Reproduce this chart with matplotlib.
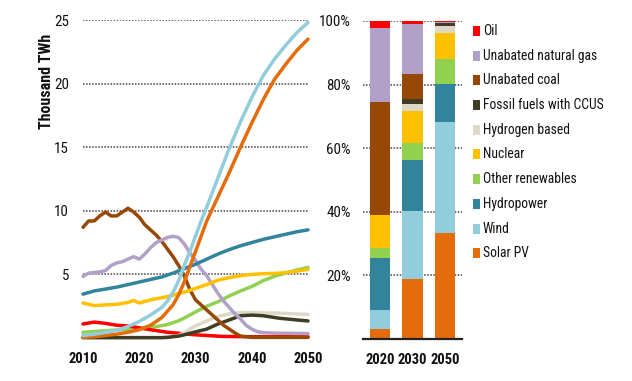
import matplotlib
matplotlib.use("Agg")
import matplotlib.pyplot as plt
from matplotlib import font_manager as fm
from matplotlib.patches import Rectangle
import numpy as np

# ---------------- data ----------------
oil_years = [2010, 2012, 2014, 2016, 2018, 2020, 2022, 2025, 2030, 2035, 2040, 2050]
oil_vals = [1.1, 1.25, 1.15, 1.0, 0.95, 0.8, 0.65, 0.45, 0.25, 0.12, 0.1, 0.1]

gas_years = [2010, 2011, 2012, 2013, 2014, 2015, 2016, 2017, 2018, 2019, 2020, 2021, 2022, 2023, 2024,
             2025, 2026, 2027, 2028, 2029, 2030, 2031, 2032, 2033, 2034, 2035, 2036, 2037, 2038, 2039,
             2040, 2041, 2042, 2044, 2050]
gas_vals = [4.85, 5.1, 5.15, 5.2, 5.3, 5.7, 5.9, 6.0, 6.2, 6.4, 6.2, 6.6, 7.1, 7.5, 7.7,
            7.9, 8.0, 7.9, 7.4, 6.7, 6.1, 5.4, 4.9, 4.2, 3.5, 2.9, 2.4, 1.9, 1.5, 1.0,
            0.7, 0.5, 0.42, 0.38, 0.35]

coal_years = [2010, 2011, 2012, 2013, 2014, 2015, 2016, 2017, 2018, 2019, 2020, 2021, 2022, 2023, 2024,
              2025, 2026, 2027, 2028, 2029, 2030, 2031, 2032, 2033, 2034, 2035, 2036, 2037, 2038,
              2040, 2050]
coal_vals = [8.7, 9.2, 9.2, 9.6, 9.9, 9.6, 9.6, 9.9, 10.2, 9.9, 9.5, 8.9, 8.5, 8.1, 7.6,
             7.0, 6.4, 5.7, 4.9, 3.8, 3.0, 2.6, 2.2, 1.8, 1.4, 1.0, 0.7, 0.4, 0.15,
             0.05, 0.05]

ccus_years = [2010, 2024, 2025, 2026, 2027, 2028, 2029, 2030, 2032, 2034, 2036, 2038, 2040, 2042, 2045, 2048, 2050]
ccus_vals = [0.03, 0.03, 0.05, 0.1, 0.15, 0.25, 0.37, 0.48, 0.7, 1.1, 1.42, 1.75, 1.8, 1.75, 1.55, 1.42, 1.34]

h2_years = [2010, 2024, 2025, 2026, 2027, 2028, 2029, 2030, 2032, 2034, 2036, 2038, 2040, 2045, 2050]
h2_vals = [0.02, 0.02, 0.05, 0.1, 0.2, 0.4, 0.7, 0.95, 1.35, 1.7, 1.9, 2.0, 2.0, 1.95, 1.85]

nuc_years = [2010, 2012, 2014, 2016, 2018, 2019, 2020, 2022, 2025, 2028, 2030, 2032, 2034, 2036, 2038,
             2040, 2042, 2045, 2048, 2050]
nuc_vals = [2.75, 2.55, 2.6, 2.65, 2.8, 2.95, 2.75, 3.0, 3.25, 3.6, 3.9, 4.2, 4.55, 4.75, 4.9,
            5.0, 5.05, 5.1, 5.25, 5.4]

oth_years = [2010, 2015, 2020, 2023, 2025, 2027, 2029, 2030, 2032, 2034, 2036, 2038, 2040, 2042, 2044,
             2046, 2048, 2050]
oth_vals = [0.45, 0.6, 0.75, 0.9, 1.05, 1.35, 1.8, 2.05, 2.5, 2.85, 3.3, 3.7, 4.05, 4.5, 4.85,
            5.1, 5.35, 5.55]

hyd_years = [2010, 2012, 2014, 2016, 2018, 2020, 2022, 2024, 2026, 2028, 2030, 2032, 2034, 2036, 2038,
             2040, 2042, 2044, 2046, 2048, 2050]
hyd_vals = [3.45, 3.7, 3.85, 4.0, 4.2, 4.4, 4.6, 4.8, 5.1, 5.45, 5.8, 6.2, 6.6, 6.95, 7.25,
            7.5, 7.75, 7.95, 8.15, 8.35, 8.5]

wind_years = [2010, 2012, 2014, 2016, 2018, 2020, 2022, 2024, 2025, 2026, 2027, 2028, 2029, 2030, 2031,
              2032, 2034, 2036, 2038, 2040, 2042, 2044, 2046, 2048, 2050]
wind_vals = [0.2, 0.3, 0.45, 0.6, 0.9, 1.3, 1.8, 2.4, 2.9, 3.6, 4.5, 5.7, 6.8, 8.0, 9.2,
             10.3, 12.6, 14.9, 17.0, 18.9, 20.6, 21.9, 23.0, 24.0, 24.8]

sol_years = [2010, 2012, 2014, 2016, 2018, 2020, 2022, 2024, 2025, 2026, 2027, 2028, 2029, 2030, 2031,
             2032, 2034, 2036, 2038, 2040, 2042, 2044, 2046, 2048, 2050]
sol_vals = [0.05, 0.1, 0.2, 0.3, 0.45, 0.65, 1.0, 1.6, 2.1, 2.6, 3.4, 4.4, 5.6, 6.8, 8.0,
            9.2, 11.1, 13.0, 15.0, 16.9, 18.7, 20.3, 21.5, 22.6, 23.5]

# stacked shares (%) for 2020, 2030, 2050
bar_years = ["2020", "2030", "2050"]
share_solar = [3.0, 18.8, 33.3]
share_wind = [6.0, 21.6, 34.9]
share_hydro = [16.6, 15.8, 12.0]
share_other = [3.1, 5.4, 8.0]
share_nuclear = [10.3, 10.1, 7.9]
share_h2 = [0.0, 2.1, 2.2]
share_ccus = [0.0, 1.6, 1.1]
share_coal = [35.6, 7.8, 0.0]
share_gas = [23.3, 15.8, 0.4]
share_oil = [2.1, 1.0, 0.2]

legend_labels = ["Oil", "Unabated natural gas", "Unabated coal", "Fossil fuels with CCUS",
                 "Hydrogen based", "Nuclear", "Other renewables", "Hydropower", "Wind", "Solar PV"]

C_OIL = "#FF0000"
C_GAS = "#B1A0C7"
C_COAL = "#974706"
C_CCUS = "#403D25"
C_H2 = "#DDD9C4"
C_NUC = "#FFC000"
C_OTH = "#92D050"
C_HYD = "#31849B"
C_WIND = "#92CDDC"
C_SOL = "#E46C0A"

# ---------------- fonts ----------------
def pick(names):
    for n in names:
        try:
            fm.findfont(fm.FontProperties(family=n), fallback_to_default=False)
            return n
        except Exception:
            pass
    return "DejaVu Sans"

FONT = pick(["Liberation Sans Narrow", "Roboto Condensed", "Liberation Sans"])
narrow = FONT != "Liberation Sans"
plt.rcParams["font.family"] = [FONT, "DejaVu Sans"]

W, H = 632, 381
fig = plt.figure(figsize=(W / 100, H / 100), dpi=100)

def axrect(x0, x1, ytop, ybot):
    return [x0 / W, (H - ybot) / H, (x1 - x0) / W, (ybot - ytop) / H]

tick_fs = 10.8 if narrow else 9.5
xtick_fs = 10.5 if narrow else 9.0

# ---------------- left line chart ----------------
ax = fig.add_axes(axrect(83, 308, 20, 338))
ax.set_xlim(2010, 2050)
ax.set_ylim(0, 25)
for s in ax.spines.values():
    s.set_visible(False)
ax.set_yticks([5, 10, 15, 20, 25])
ax.set_xticks([2010, 2020, 2030, 2040, 2050])
ax.yaxis.grid(True, linestyle=(0, (1, 1)), color="#444444", linewidth=1.1)
ax.set_axisbelow(True)
ax.tick_params(axis="both", length=0, labelcolor="#111111")
ax.tick_params(axis="y", pad=10, labelsize=tick_fs)
ax.tick_params(axis="x", pad=10, labelsize=xtick_fs)
for lab in ax.get_xticklabels():
    lab.set_fontweight("bold")
fig.text(47 / W, (H - 81) / H, "Thousand TWh", rotation=90, ha="center", va="center",
         fontsize=11.5 if narrow else 9.5, fontweight="bold", color="#111111")

series = [
    (oth_years, oth_vals, C_OTH),
    (oil_years, oil_vals, C_OIL),
    (h2_years, h2_vals, C_H2),
    (ccus_years, ccus_vals, C_CCUS),
    (coal_years, coal_vals, C_COAL),
    (gas_years, gas_vals, C_GAS),
    (nuc_years, nuc_vals, C_NUC),
    (hyd_years, hyd_vals, C_HYD),
    (sol_years, sol_vals, C_SOL),
    (wind_years, wind_vals, C_WIND),
]
for yrs, vals, c in series:
    ax.plot(yrs, vals, color=c, linewidth=2.5, solid_joinstyle="round", solid_capstyle="round",
            clip_on=False)

# ---------------- right stacked bars ----------------
bx = fig.add_axes(axrect(363, 462, 21, 339))
bx.set_xlim(-0.52, 2.52)
bx.set_ylim(0, 100)
for k in ["top", "right", "left"]:
    bx.spines[k].set_visible(False)
bx.spines["bottom"].set_linewidth(1.6)
bx.spines["bottom"].set_color("#222222")
bx.yaxis.grid(True, linestyle=(0, (1, 1)), color="#444444", linewidth=1.1)
bx.set_axisbelow(True)
bx.set_yticks([20, 40, 60, 80, 100])
bx.set_yticklabels(["20%", "40%", "60%", "80%", "100%"])
bx.tick_params(axis="both", length=0, labelcolor="#111111")
bx.tick_params(axis="y", pad=9, labelsize=tick_fs)
bx.tick_params(axis="x", pad=10, labelsize=xtick_fs)

stack = [
    (share_solar, C_SOL), (share_wind, C_WIND), (share_hydro, C_HYD), (share_other, C_OTH),
    (share_nuclear, C_NUC), (share_h2, C_H2), (share_ccus, C_CCUS), (share_coal, C_COAL),
    (share_gas, C_GAS), (share_oil, C_OIL),
]
xpos = np.arange(len(bar_years))
bottom = np.zeros(len(bar_years))
for vals, c in stack:
    v = np.array(vals)
    bx.bar(xpos, v, bottom=bottom, width=0.62, color=c, linewidth=0)
    bottom += v
bx.set_xticks(xpos)
bx.set_xticklabels(bar_years)
for lab in bx.get_xticklabels():
    lab.set_fontweight("bold")

# ---------------- legend ----------------
leg_colors = [C_OIL, C_GAS, C_COAL, C_CCUS, C_H2, C_NUC, C_OTH, C_HYD, C_WIND, C_SOL]
for i, (lab, c) in enumerate(zip(legend_labels, leg_colors)):
    yc = 31 + 24.7 * i
    fig.patches.append(Rectangle((473 / W, (H - yc - 5) / H), 7.5 / W, 10 / H,
                                 transform=fig.transFigure, facecolor=c, edgecolor="none"))
    fig.text(483 / W, (H - yc) / H, lab, fontsize=9.8 if narrow else 9, va="center", ha="left",
             color="#111111")

fig.savefig("out.png", dpi=100)
